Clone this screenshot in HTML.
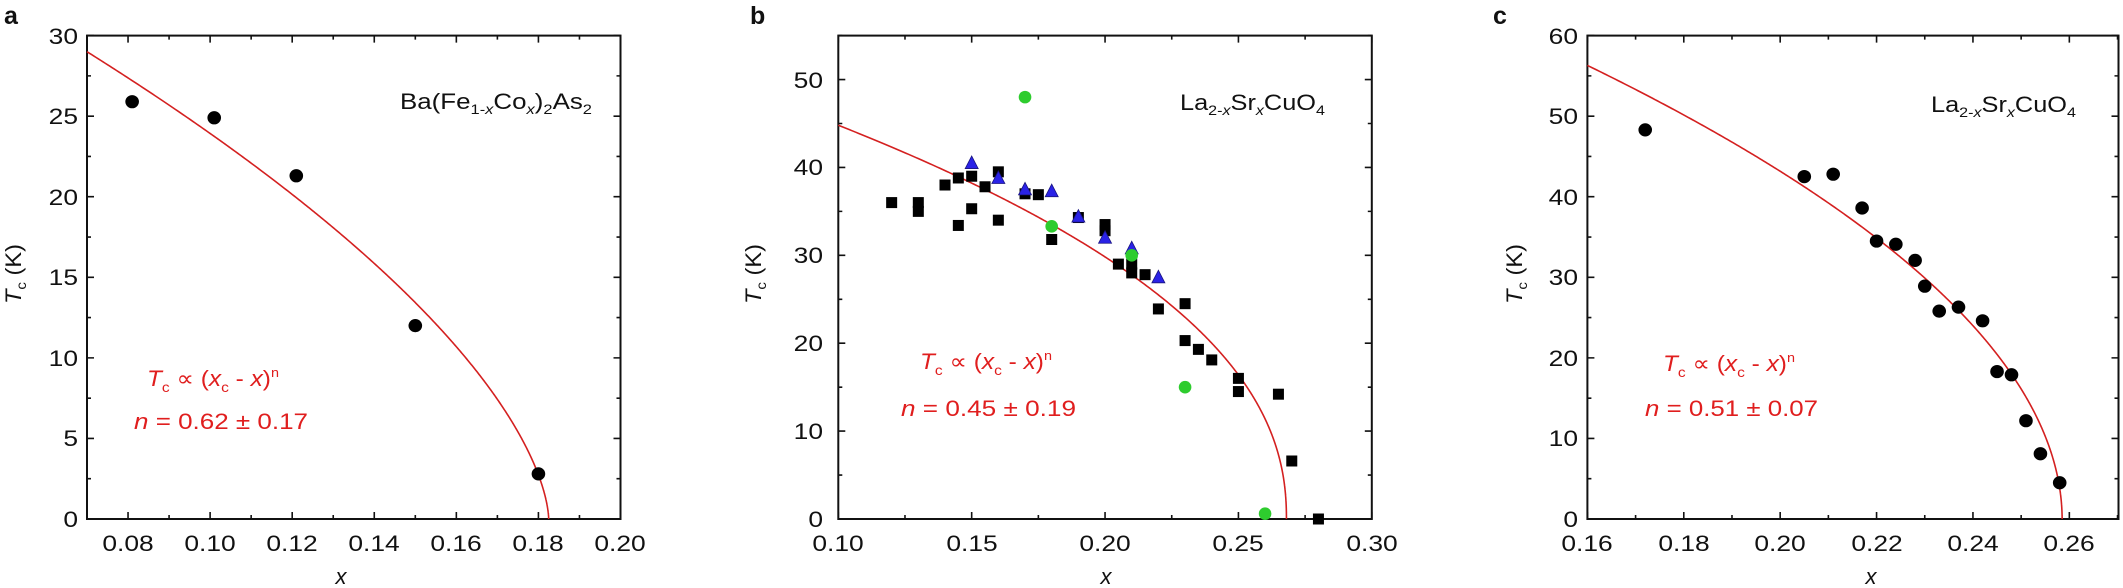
<!DOCTYPE html>
<html><head><meta charset="utf-8"><style>
html,body{margin:0;padding:0;background:#fff;}
svg{display:block;font-family:"Liberation Sans",Arial,sans-serif;}
</style></head><body>
<svg id="s" width="2123" height="588" viewBox="0 0 2123 588" xmlns="http://www.w3.org/2000/svg">
<g id="geo"></g>
<g font-size="22" fill="#111">
<!-- panel labels -->
<text x="4" y="24" font-size="25" font-weight="bold">a</text>
<text x="750" y="24" font-size="25" font-weight="bold">b</text>
<text x="1493" y="24" font-size="25" font-weight="bold">c</text>

<!-- panel a ticks -->
<g text-anchor="middle">
<text transform="translate(128,551) scale(1.2,1)">0.08</text>
<text transform="translate(210,551) scale(1.2,1)">0.10</text>
<text transform="translate(292,551) scale(1.2,1)">0.12</text>
<text transform="translate(374,551) scale(1.2,1)">0.14</text>
<text transform="translate(456,551) scale(1.2,1)">0.16</text>
<text transform="translate(538,551) scale(1.2,1)">0.18</text>
<text transform="translate(620,551) scale(1.2,1)">0.20</text>
</g>
<g text-anchor="end">
<text transform="translate(78,527) scale(1.2,1)">0</text>
<text transform="translate(78,446) scale(1.2,1)">5</text>
<text transform="translate(78,366) scale(1.2,1)">10</text>
<text transform="translate(78,285) scale(1.2,1)">15</text>
<text transform="translate(78,205) scale(1.2,1)">20</text>
<text transform="translate(78,124) scale(1.2,1)">25</text>
<text transform="translate(78,44) scale(1.2,1)">30</text>
</g>
<text transform="translate(21,304) rotate(-90)" textLength="60" lengthAdjust="spacingAndGlyphs"><tspan font-style="italic">T</tspan><tspan font-size="14" dy="5">c</tspan><tspan dy="-5"> (K)</tspan></text>
<text x="341" y="584" text-anchor="middle" font-style="italic">x</text>
<text x="400" y="109" textLength="192" lengthAdjust="spacingAndGlyphs">Ba(Fe<tspan font-size="14" dy="5">1-<tspan font-style="italic">x</tspan></tspan><tspan dy="-5">Co</tspan><tspan font-size="14" dy="5" font-style="italic">x</tspan><tspan dy="-5">)</tspan><tspan font-size="14" dy="5">2</tspan><tspan dy="-5">As</tspan><tspan font-size="14" dy="5">2</tspan></text>
<g fill="#e01e1e">
<text x="147" y="386" textLength="132" lengthAdjust="spacingAndGlyphs"><tspan font-style="italic">T</tspan><tspan font-size="14" dy="6">c</tspan><tspan dy="-6"> ∝ (</tspan><tspan font-style="italic">x</tspan><tspan font-size="14" dy="6">c</tspan><tspan dy="-6"> - </tspan><tspan font-style="italic">x</tspan><tspan>)</tspan><tspan font-size="13" dy="-9">n</tspan></text>
<text x="134" y="429" textLength="174" lengthAdjust="spacingAndGlyphs"><tspan font-style="italic">n</tspan> = 0.62 ± 0.17</text>
</g>

<!-- panel b -->
<g text-anchor="middle">
<text transform="translate(838,551) scale(1.2,1)">0.10</text>
<text transform="translate(972,551) scale(1.2,1)">0.15</text>
<text transform="translate(1105,551) scale(1.2,1)">0.20</text>
<text transform="translate(1238,551) scale(1.2,1)">0.25</text>
<text transform="translate(1372,551) scale(1.2,1)">0.30</text>
</g>
<g text-anchor="end">
<text transform="translate(823,527) scale(1.2,1)">0</text>
<text transform="translate(823,439) scale(1.2,1)">10</text>
<text transform="translate(823,351) scale(1.2,1)">20</text>
<text transform="translate(823,263) scale(1.2,1)">30</text>
<text transform="translate(823,175) scale(1.2,1)">40</text>
<text transform="translate(823,88) scale(1.2,1)">50</text>
</g>
<text transform="translate(761,304) rotate(-90)" textLength="60" lengthAdjust="spacingAndGlyphs"><tspan font-style="italic">T</tspan><tspan font-size="14" dy="5">c</tspan><tspan dy="-5"> (K)</tspan></text>
<text x="1106" y="584" text-anchor="middle" font-style="italic">x</text>
<text x="1180" y="110" textLength="145" lengthAdjust="spacingAndGlyphs">La<tspan font-size="14" dy="5">2-<tspan font-style="italic">x</tspan></tspan><tspan dy="-5">Sr</tspan><tspan font-size="14" dy="5" font-style="italic">x</tspan><tspan dy="-5">CuO</tspan><tspan font-size="14" dy="5">4</tspan></text>
<g fill="#e01e1e">
<text x="920" y="369" textLength="132" lengthAdjust="spacingAndGlyphs"><tspan font-style="italic">T</tspan><tspan font-size="14" dy="6">c</tspan><tspan dy="-6"> ∝ (</tspan><tspan font-style="italic">x</tspan><tspan font-size="14" dy="6">c</tspan><tspan dy="-6"> - </tspan><tspan font-style="italic">x</tspan><tspan>)</tspan><tspan font-size="13" dy="-9">n</tspan></text>
<text x="901" y="416" textLength="175" lengthAdjust="spacingAndGlyphs"><tspan font-style="italic">n</tspan> = 0.45 ± 0.19</text>
</g>

<!-- panel c -->
<g text-anchor="middle">
<text transform="translate(1587,551) scale(1.2,1)">0.16</text>
<text transform="translate(1684,551) scale(1.2,1)">0.18</text>
<text transform="translate(1780,551) scale(1.2,1)">0.20</text>
<text transform="translate(1877,551) scale(1.2,1)">0.22</text>
<text transform="translate(1973,551) scale(1.2,1)">0.24</text>
<text transform="translate(2069,551) scale(1.2,1)">0.26</text>
</g>
<g text-anchor="end">
<text transform="translate(1578,527) scale(1.2,1)">0</text>
<text transform="translate(1578,446) scale(1.2,1)">10</text>
<text transform="translate(1578,366) scale(1.2,1)">20</text>
<text transform="translate(1578,285) scale(1.2,1)">30</text>
<text transform="translate(1578,205) scale(1.2,1)">40</text>
<text transform="translate(1578,124) scale(1.2,1)">50</text>
<text transform="translate(1578,44) scale(1.2,1)">60</text>
</g>
<text transform="translate(1522,304) rotate(-90)" textLength="60" lengthAdjust="spacingAndGlyphs"><tspan font-style="italic">T</tspan><tspan font-size="14" dy="5">c</tspan><tspan dy="-5"> (K)</tspan></text>
<text x="1871" y="584" text-anchor="middle" font-style="italic">x</text>
<text x="1931" y="112" textLength="145" lengthAdjust="spacingAndGlyphs">La<tspan font-size="14" dy="5">2-<tspan font-style="italic">x</tspan></tspan><tspan dy="-5">Sr</tspan><tspan font-size="14" dy="5" font-style="italic">x</tspan><tspan dy="-5">CuO</tspan><tspan font-size="14" dy="5">4</tspan></text>
<g fill="#e01e1e">
<text x="1663" y="371" textLength="132" lengthAdjust="spacingAndGlyphs"><tspan font-style="italic">T</tspan><tspan font-size="14" dy="6">c</tspan><tspan dy="-6"> ∝ (</tspan><tspan font-style="italic">x</tspan><tspan font-size="14" dy="6">c</tspan><tspan dy="-6"> - </tspan><tspan font-style="italic">x</tspan><tspan>)</tspan><tspan font-size="13" dy="-9">n</tspan></text>
<text x="1645" y="416" textLength="173" lengthAdjust="spacingAndGlyphs"><tspan font-style="italic">n</tspan> = 0.51 ± 0.07</text>
</g>
</g>
</svg>
<script>
(function(){
var NS="http://www.w3.org/2000/svg",g=document.getElementById("geo");
function el(n,a){var e=document.createElementNS(NS,n);for(var k in a)e.setAttribute(k,a[k]);g.appendChild(e);return e;}
function panel(P){
  var L=P.L,R=P.R,T=35.6,B=519;
  function X(x){return L+(x-P.x0)/(P.x1-P.x0)*(R-L);}
  function Y(y){return B-(y-P.y0)/(P.y1-P.y0)*(B-T);}
  var d="";
  function tickx(v,len){var x=X(v);d+="M"+x+","+B+"v"+(-len)+"M"+x+","+T+"v"+len;}
  function ticky(v,len){var y=Y(v);d+="M"+L+","+y+"h"+len+"M"+R+","+y+"h"+(-len);}
  var i;
  for(i=0;;i++){var v=P.x0+i*P.xm;if(v>P.x1+1e-9)break;tickx(v,(Math.abs(((v-P.xs)/P.xM)-Math.round((v-P.xs)/P.xM))<1e-6)?7:4);}
  for(i=0;;i++){var v=P.y0+i*P.ym;if(v>P.y1+1e-9)break;ticky(v,(Math.abs(v/P.yM-Math.round(v/P.yM))<1e-6)?7:4);}
  el("path",{d:d,stroke:"#111","stroke-width":1.6,fill:"none"});
  el("rect",{x:L,y:T,width:R-L,height:B-T,fill:"none",stroke:"#111","stroke-width":2});
  // curve
  var pts=[],A=P.T0/Math.pow(P.xc-P.x0,P.n);
  for(i=0;i<=600;i++){var t=i/600;var x=P.x0+(P.xc-P.x0)*(1-Math.pow(1-t,3));pts.push(X(x).toFixed(2)+","+Y(A*Math.pow(Math.max(P.xc-x,0),P.n)).toFixed(2));}
  el("polyline",{points:pts.join(" "),fill:"none",stroke:"#d42020","stroke-width":1.6});
  (P.sq||[]).forEach(function(p){el("rect",{x:X(p[0])-5.5,y:Y(p[1])-5.5,width:11,height:11,fill:"#000"});});
  (P.tri||[]).forEach(function(p){var x=X(p[0]),y=Y(p[1]);el("polygon",{points:(x-6.5)+","+(y+5.5)+" "+(x+6.5)+","+(y+5.5)+" "+x+","+(y-7),fill:"#2a22e6",stroke:"#1a1580","stroke-width":0.8});});
  (P.gc||[]).forEach(function(p){el("circle",{cx:X(p[0]),cy:Y(p[1]),r:6.3,fill:"#2ecc2e"});});
  (P.dots||[]).forEach(function(p){el("ellipse",{cx:X(p[0]),cy:Y(p[1]),rx:6.8,ry:6.6,fill:"#000"});});
}
panel({L:87,R:620.5,x0:0.07,x1:0.20,y0:0,y1:30,xm:0.01,xM:0.02,xs:0.08,ym:2.5,yM:5,xc:0.1825,n:0.62,T0:29,
 dots:[[0.081,25.9],[0.101,24.9],[0.121,21.3],[0.15,12],[0.18,2.8]]});
panel({L:838.3,R:1371.8,x0:0.10,x1:0.30,y0:0,y1:55,xm:0.025,xM:0.05,xs:0.10,ym:5,yM:10,xc:0.268,n:0.45,T0:44.8,
 sq:[[0.12,36],[0.13,36],[0.13,35],[0.14,38],[0.145,38.8],[0.145,33.4],[0.15,39],[0.15,35.3],[0.155,37.8],[0.16,39.5],[0.16,34],[0.17,37],[0.175,36.9],[0.18,31.8],[0.19,34.3],[0.2,33.5],[0.2,32.8],[0.205,29],[0.21,29],[0.21,28],[0.215,27.8],[0.22,23.9],[0.23,24.5],[0.23,20.3],[0.235,19.3],[0.24,18.1],[0.25,16],[0.25,14.5],[0.265,14.2],[0.27,6.6],[0.28,0]],
 tri:[[0.15,40.5],[0.16,38.8],[0.17,37.5],[0.18,37.3],[0.19,34.4],[0.2,32],[0.21,30.8],[0.22,27.5]],
 gc:[[0.17,48],[0.18,33.3],[0.21,30],[0.23,15],[0.26,0.6]]});
panel({L:1587.4,R:2118.5,x0:0.16,x1:0.2702,y0:0,y1:60,xm:0.01,xM:0.02,xs:0.16,ym:5,yM:10,xc:0.2585,n:0.51,T0:56.3,
 dots:[[0.172,48.3],[0.205,42.5],[0.211,42.8],[0.217,38.6],[0.220,34.5],[0.224,34.1],[0.228,32.1],[0.230,28.9],[0.233,25.8],[0.237,26.3],[0.242,24.6],[0.245,18.3],[0.248,17.9],[0.251,12.2],[0.254,8.1],[0.258,4.5]]});
})();
</script>
</body></html>
